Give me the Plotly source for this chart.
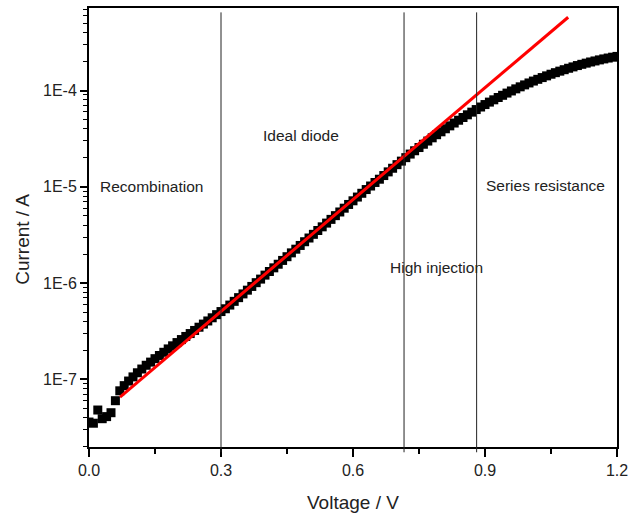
import plotly.graph_objects as go

# ---- data ----
voltage = [round(0.01 * i, 2) for i in range(121)]
current = [
    3.6e-8, 3.5e-8, 4.8e-8, 3.9e-8, 4.1e-8, 4.5e-8, 6.0e-8, 7.6e-8, 8.6e-8, 9.6e-8,
    1.06e-7, 1.17e-7, 1.28e-7, 1.40e-7, 1.51e-7, 1.64e-7, 1.77e-7, 1.91e-7, 2.07e-7, 2.23e-7,
    2.41e-7, 2.59e-7, 2.79e-7, 2.99e-7, 3.22e-7, 3.48e-7, 3.75e-7, 4.04e-7, 4.36e-7, 4.70e-7,
    5.06e-7, 5.41e-7, 5.91e-7, 6.46e-7, 7.06e-7, 7.72e-7, 8.44e-7, 9.23e-7, 1.01e-6, 1.10e-6,
    1.21e-6, 1.32e-6, 1.44e-6, 1.57e-6, 1.72e-6, 1.88e-6, 2.06e-6, 2.25e-6, 2.46e-6, 2.69e-6,
    2.94e-6, 3.21e-6, 3.52e-6, 3.84e-6, 4.20e-6, 4.59e-6, 5.02e-6, 5.48e-6, 6.00e-6, 6.56e-6,
    7.16e-6, 7.83e-6, 8.57e-6, 9.37e-6, 1.02e-5, 1.11e-5, 1.20e-5, 1.31e-5, 1.43e-5, 1.56e-5,
    1.70e-5, 1.85e-5, 2.01e-5, 2.19e-5, 2.37e-5, 2.56e-5, 2.77e-5, 2.99e-5, 3.23e-5, 3.48e-5,
    3.73e-5, 4.01e-5, 4.30e-5, 4.60e-5, 4.92e-5, 5.25e-5, 5.60e-5, 5.97e-5, 6.35e-5, 6.75e-5,
    7.16e-5, 7.59e-5, 8.02e-5, 8.47e-5, 8.93e-5, 9.42e-5, 9.91e-5, 1.042e-4, 1.094e-4, 1.146e-4,
    1.20e-4, 1.256e-4, 1.309e-4, 1.365e-4, 1.422e-4, 1.479e-4, 1.535e-4, 1.592e-4, 1.648e-4, 1.706e-4,
    1.762e-4, 1.82e-4, 1.875e-4, 1.928e-4, 1.982e-4, 2.032e-4, 2.084e-4, 2.133e-4, 2.178e-4, 2.223e-4,
    2.265e-4,
]
fit_voltage = [0.0705, 1.089]
fit_current = [6.55e-8, 5.78e-4]

boundary_voltages = [0.3, 0.716, 0.881]
region_labels = ["Recombination", "Ideal diode", "High injection", "Series resistance"]

x_tickvals = [0.0, 0.3, 0.6, 0.9, 1.2]
x_ticktext = ["0.0", "0.3", "0.6", "0.9", "1.2"]
x_minor = [0.15, 0.45, 0.75, 1.05]
y_tickvals = [1e-7, 1e-6, 1e-5, 1e-4]
y_ticktext = ["1E-7", "1E-6", "1E-5", "1E-4"]
y_minor = [m * 10.0 ** e for e in range(-8, -3) for m in range(2, 10)]

FONT = "Arial, Liberation Sans, sans-serif"

fig = go.Figure()
fig.add_trace(go.Scatter(
    x=voltage, y=current, mode="markers",
    marker=dict(symbol="square", size=9, color="black", line=dict(width=0)),
    showlegend=False, cliponaxis=True,
))
fig.add_trace(go.Scatter(
    x=fit_voltage, y=fit_current, mode="lines",
    line=dict(color="#ff0000", width=3), showlegend=False,
))

# region boundaries
for v in boundary_voltages:
    fig.add_shape(type="line", xref="x", yref="paper", x0=v, x1=v, y0=-0.012, y1=0.99,
                  line=dict(color="#222222", width=1))

# region labels (paper coordinates)
label_pos = [(0.1184, 0.5923), (0.4015, 0.7107), (0.6581, 0.4100), (0.8655, 0.5968)]
for txt, (px, py) in zip(region_labels, label_pos):
    fig.add_annotation(text=txt, x=px, y=py, xref="paper", yref="paper",
                       showarrow=False, font=dict(family=FONT, size=15.5, color="#222222"),
                       xanchor="center", yanchor="middle")

# axis titles
fig.add_annotation(text="Voltage / V", x=0.5, y=-0.127, xref="paper", yref="paper",
                   showarrow=False, font=dict(family=FONT, size=19, color="#222222"),
                   xanchor="center", yanchor="middle")
fig.add_annotation(text="Current / A", x=-0.125, y=0.472, xref="paper", yref="paper",
                   showarrow=False, textangle=-90,
                   font=dict(family=FONT, size=19, color="#222222"),
                   xanchor="center", yanchor="middle")

fig.update_xaxes(
    range=[0, 1.2], tickmode="array", tickvals=x_tickvals, ticktext=x_ticktext,
    ticks="outside", ticklen=8, tickwidth=1.5, tickcolor="black",
    showline=True, linewidth=2, linecolor="black", mirror=True,
    showgrid=False, zeroline=False, ticklabeloverflow="allow",
    tickfont=dict(family=FONT, size=16, color="#222222"),
    minor=dict(tickvals=x_minor, ticks="outside", ticklen=5, tickwidth=1.5, tickcolor="black", showgrid=False),
)
fig.update_yaxes(
    type="log", range=[-7.703, -3.142], tickmode="array", tickvals=y_tickvals, ticktext=y_ticktext,
    ticks="outside", ticklen=7, tickwidth=1.5, tickcolor="black",
    showline=True, linewidth=2, linecolor="black", mirror=True,
    showgrid=False, zeroline=False,
    tickfont=dict(family=FONT, size=16, color="#222222"),
    minor=dict(tickvals=y_minor, ticks="outside", ticklen=4, tickwidth=1.2, tickcolor="black", showgrid=False),
)
fig.update_layout(
    width=628, height=515,
    margin=dict(l=89, r=11, t=8, b=68, autoexpand=False),
    paper_bgcolor="white", plot_bgcolor="white",
    font=dict(family=FONT),
)
# remove the default page margin so the figure fills the window exactly
fig.write_html(
    "out.html",
    config={"displayModeBar": False},
    post_script="document.body.style.margin='0';document.body.style.overflow='hidden';",
)
